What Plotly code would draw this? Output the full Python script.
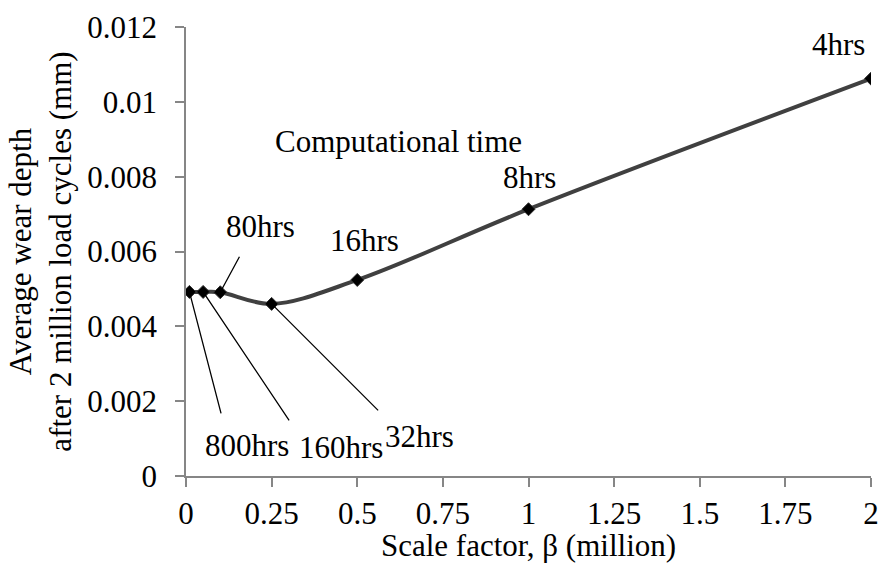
import plotly.graph_objects as go

# Data
scale_factor = [0.01, 0.05, 0.1, 0.25, 0.5, 1.0, 2.0]          # million
wear_depth = [0.00492, 0.00492, 0.00491, 0.00460, 0.00524, 0.00713, 0.01062]  # mm
comp_time = ["800hrs", "160hrs", "80hrs", "32hrs", "16hrs", "8hrs", "4hrs"]

x_ticks = [0, 0.25, 0.5, 0.75, 1, 1.25, 1.5, 1.75, 2]
x_tick_text = ["0", "0.25", "0.5", "0.75", "1", "1.25", "1.5", "1.75", "2"]
y_ticks = [0, 0.002, 0.004, 0.006, 0.008, 0.01, 0.012]
y_tick_text = ["0", "0.002", "0.004", "0.006", "0.008", "0.01", "0.012"]

FONT = "Times New Roman, Liberation Serif, DejaVu Serif, serif"
FS = 31

fig = go.Figure()
fig.add_trace(go.Scatter(
    x=scale_factor, y=wear_depth, mode="lines+markers",
    line=dict(color="#404040", width=4, shape="spline", smoothing=1.0),
    marker=dict(symbol="diamond", size=10, color="black",
                line=dict(color="#303030", width=1)),
    showlegend=False, hoverinfo="skip",
))

# label placement (pixel shifts relative to each data point)
label_shift = {
    "800hrs": (58, -154),
    "160hrs": (138, -156),
    "80hrs": (40, 66),
    "32hrs": (148, -133),
    "16hrs": (7, 39),
    "8hrs": (1, 32),
    "4hrs": (-33, 34),
}
# leader lines (pixel offsets of tail from data point)
leaders = {
    "800hrs": (32, 123),
    "160hrs": (87, 130),
    "80hrs": (20, -37),
    "32hrs": (108, 108),
}

annotations = []
for xv, yv, lab in zip(scale_factor, wear_depth, comp_time):
    dx, dy = label_shift[lab]
    annotations.append(dict(
        x=xv, y=yv, xref="x", yref="y", text=lab, showarrow=False,
        xshift=dx, yshift=dy, font=dict(family=FONT, size=FS, color="black"),
    ))
    if lab in leaders:
        ax, ay = leaders[lab]
        annotations.append(dict(
            x=xv, y=yv, xref="x", yref="y", text="", showarrow=True,
            arrowhead=0, arrowwidth=1.3, arrowcolor="black",
            ax=ax, ay=ay, standoff=0, startstandoff=0,
        ))

annotations.append(dict(
    x=0.9726, y=0.00895, xref="x", yref="y", text="Computational time",
    showarrow=False, xanchor="right", xshift=5,
    font=dict(family=FONT, size=FS, color="black"),
))

axis_common = dict(
    showgrid=False, zeroline=False, showline=True, linecolor="#868686",
    linewidth=1.5, ticks="outside", ticklen=9, tickcolor="#868686",
    tickwidth=1.5, tickfont=dict(family=FONT, size=FS, color="black"),
)

fig.update_layout(
    width=889, height=563,
    margin=dict(l=186, r=10, t=24, b=84),
    paper_bgcolor="white", plot_bgcolor="white",
    font=dict(family=FONT, size=FS, color="black"),
    xaxis=dict(range=[0, 2], tickvals=x_ticks, ticktext=x_tick_text,
               title=dict(text="Scale factor, β (million)", standoff=0,
                          font=dict(family=FONT, size=FS, color="black")),
               **axis_common),
    yaxis=dict(range=[0, 0.012], tickvals=y_ticks, ticktext=y_tick_text,
               ticklabelstandoff=12,
               title=dict(text="Average wear depth<br>after 2 million load cycles (mm)",
                          standoff=6,
                          font=dict(family=FONT, size=FS, color="black")),
               **axis_common),
    annotations=annotations,
)

fig.write_html("out.html")
